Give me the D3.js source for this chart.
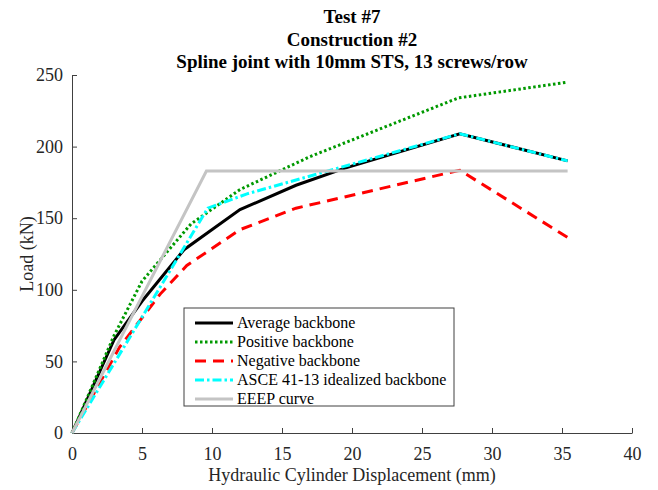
<!DOCTYPE html>
<html>
<head>
<meta charset="utf-8">
<script src="https://cdn.jsdelivr.net/npm/d3@7"></script>
<style>
  body { margin: 0; background: #fff; }
  text { font-family: "Liberation Serif", "Times New Roman", serif; }
</style>
</head>
<body>
<svg id="chart" width="658" height="490"></svg>
<script>
"use strict";

// data (displacement mm, load kN)
const avgX  = [0, 3.0, 5.0, 8.0, 12.0, 16.0, 19.5, 27.7, 35.4];
const avgY  = [0, 65, 92, 128, 156, 173, 185, 209, 190];
const posX  = [0, 3.0, 5.0, 8.5, 12.0, 17.0, 27.6, 35.4];
const posY  = [0, 68, 106, 146, 170, 193, 234, 245];
const negX  = [0, 3.4, 6.3, 8.2, 12.0, 16.0, 20.0, 27.7, 35.5];
const negY  = [0, 60, 97, 117, 142, 157, 166, 183.5, 136];
const asceX = [0, 9.7, 12.5, 27.7, 35.4];
const asceY = [0, 157, 167, 209, 190];
const eeepX = [0, 9.6, 35.4];
const eeepY = [0, 183, 183];

const xTicks = [0, 5, 10, 15, 20, 25, 30, 35, 40];
const yTicks = [0, 50, 100, 150, 200, 250];

const titleLines = ["Test #7", "Construction #2", "Spline joint with 10mm STS, 13 screws/row"];

const series = [
  {name: "Average backbone", xs: avgX, ys: avgY, color: "#000000", dash: null},
  {name: "Positive backbone", xs: posX, ys: posY, color: "#009900", dash: "2.5,2.5"},
  {name: "Negative backbone", xs: negX, ys: negY, color: "#ff0000", dash: "11,7"},
  {name: "ASCE 41-13 idealized backbone", xs: asceX, ys: asceY, color: "#00ffff", dash: "9,3,2.5,3"},
  {name: "EEEP curve", xs: eeepX, ys: eeepY, color: "#c4c4c4", dash: null}
];

const svg = d3.select("#chart");
const margin = {top: 75, right: 26, bottom: 57, left: 72};
const width = 658 - margin.left - margin.right;
const height = 490 - margin.top - margin.bottom;

const x = d3.scaleLinear().domain([0, 40]).range([0, width]);
const y = d3.scaleLinear().domain([0, 250]).range([height, 0]);

const g = svg.append("g").attr("transform", `translate(${margin.left},${margin.top})`);

// axes, ticks pointing inwards like matlab
const axisColor = "#404040";
const xAxis = g.append("g")
    .attr("transform", `translate(0,${height})`)
    .call(d3.axisBottom(x).tickValues(xTicks).tickSize(-5).tickSizeOuter(0).tickPadding(14));
const yAxis = g.append("g")
    .call(d3.axisLeft(y).tickValues(yTicks).tickSize(-5).tickSizeOuter(0).tickPadding(9));

[xAxis, yAxis].forEach(a => {
  a.select(".domain").attr("stroke", axisColor);
  a.selectAll(".tick line").attr("stroke", axisColor);
  a.selectAll(".tick text")
    .attr("fill", "#262626")
    .style("font-size", "18px")
    .style("font-family", "'Liberation Serif', serif");
});

// curves
const line = d3.line().x(d => x(d[0])).y(d => y(d[1]));
series.forEach(s => {
  const pts = s.xs.map((v, i) => [v, s.ys[i]]);
  g.append("path")
    .datum(pts)
    .attr("fill", "none")
    .attr("stroke", s.color)
    .attr("stroke-width", 3)
    .attr("stroke-dasharray", s.dash)
    .attr("d", line);
});

// title
svg.append("g").selectAll("text")
  .data(titleLines)
  .enter().append("text")
    .attr("x", margin.left + width / 2)
    .attr("y", (d, i) => 23 + i * 22.5)
    .attr("text-anchor", "middle")
    .style("font-size", "19px")
    .style("font-weight", "bold")
    .attr("fill", "#000")
    .text(d => d);

// axis labels
svg.append("text")
    .attr("x", margin.left + width / 2)
    .attr("y", 481)
    .attr("text-anchor", "middle")
    .style("font-size", "18px")
    .attr("fill", "#262626")
    .text("Hydraulic Cylinder Displacement (mm)");

svg.append("text")
    .attr("transform", `translate(33,${margin.top + height / 2}) rotate(-90)`)
    .attr("text-anchor", "middle")
    .style("font-size", "18px")
    .attr("fill", "#262626")
    .text("Load (kN)");

// legend
const leg = svg.append("g").attr("transform", "translate(184,308)");
leg.append("rect")
    .attr("width", 270).attr("height", 98)
    .attr("fill", "#fff")
    .attr("stroke", "#404040")
    .attr("stroke-width", 1);

series.forEach((s, i) => {
  const yy = 15 + i * 19;
  leg.append("line")
    .attr("x1", 11).attr("x2", 49)
    .attr("y1", yy).attr("y2", yy)
    .attr("stroke", s.color)
    .attr("stroke-width", 3)
    .attr("stroke-dasharray", s.dash);
  leg.append("text")
    .attr("x", 53)
    .attr("y", yy + 5)
    .style("font-size", "16px")
    .attr("fill", "#000")
    .text(s.name);
});
</script>
</body>
</html>
